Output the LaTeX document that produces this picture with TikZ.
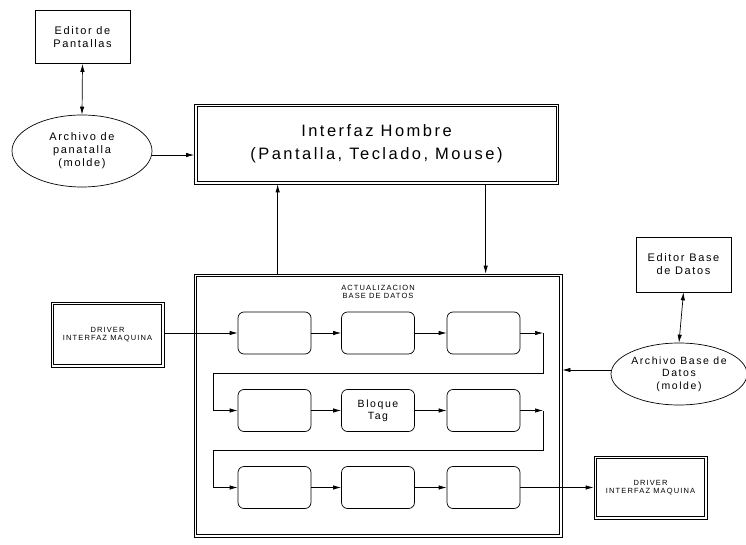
\documentclass[tikz,border=0pt]{standalone}
\usepackage{fontspec}
\setmainfont{Liberation Sans}[LetterSpace=15]
\usetikzlibrary{shapes.geometric,arrows.meta,calc}
\tikzset{
  box/.style={draw, line width=0.7pt, inner sep=0pt, align=center},
  dbox/.style={draw, line width=0.7pt, inner sep=0pt, align=center},
  inner/.style={draw, line width=0.7pt},
  rbox/.style={draw, line width=0.7pt, rounded corners=6pt, minimum width=73pt, minimum height=42pt, inner sep=0pt, align=center, font=\fontsize{10.5}{12}\selectfont},
  ell/.style={draw, ellipse, line width=0.7pt, inner sep=0pt, align=center},
  arr/.style={line width=0.7pt, -{Latex[length=8pt,width=4.4pt]}},
  darr/.style={line width=0.7pt, {Latex[length=8pt,width=4.4pt]}-{Latex[length=8pt,width=4.4pt]}},
  smallcaps/.style={font=\fontsize{7.5}{8.5}\selectfont},
}
\newcommand{\innerbox}[1]{\draw[inner] ($(#1.north west)+(3,3)$) rectangle ($(#1.south east)+(-3,-3)$);}
\begin{document}
\begin{tikzpicture}[x=1pt,y=-1pt]
\useasboundingbox (0,0) rectangle (746,545);
\begin{scope}
\clip (0,0) rectangle (746,545);
% left top
\node[box, minimum width=95pt, minimum height=53pt, font=\fontsize{11}{13}\selectfont] (ep) at (82.5,37) {Editor de\\Pantallas};
\node[ell, minimum width=140pt, minimum height=72pt, font=\fontsize{11}{13}\selectfont] (ap) at (82,151) {Archivo de\\panatalla\\(molde)};
% interfaz
\node[dbox, minimum width=364pt, minimum height=80pt, font=\fontsize{16.5}{23}\selectfont] (ih) at (376.5,144) {Interfaz Hombre\\(Pantalla, Teclado, Mouse)};
\innerbox{ih}
% big box
\node[dbox, minimum width=368pt, minimum height=263pt] (bd) at (378,405.5) {};
\innerbox{bd}
\node[smallcaps, align=center] (tt) at (378,292) {ACTUALIZACION\\BASE DE DATOS};
% rounded boxes
\node[rbox] (b11) at (274.5,333) {};
\node[rbox] (b12) at (378,333) {};
\node[rbox] (b13) at (483.5,333) {};
\node[rbox] (b21) at (274.5,410.5) {};
\node[rbox] (b22) at (378,410.5) {Bloque\\Tag};
\node[rbox] (b23) at (483.5,410.5) {};
\node[rbox] (b31) at (274.5,487.5) {};
\node[rbox] (b32) at (378,487.5) {};
\node[rbox] (b33) at (483.5,487.5) {};
% drivers
\node[dbox, minimum width=113pt, minimum height=65pt, smallcaps] (dl) at (107.5,334.5) {DRIVER\\INTERFAZ MAQUINA};
\innerbox{dl}
\node[dbox, minimum width=113pt, minimum height=63pt, smallcaps] (dr) at (650.5,487.5) {DRIVER\\INTERFAZ MAQUINA};
\innerbox{dr}
% right
\node[box, minimum width=95pt, minimum height=55pt, font=\fontsize{11}{13}\selectfont] (eb) at (683.5,264.5) {Editor Base\\de Datos};
\node[ell, minimum width=136pt, minimum height=62pt, font=\fontsize{10.5}{12.5}\selectfont] (ab) at (679,374) {Archivo Base de\\Datos\\(molde)};
% coordinates
\coordinate (a1) at ($(ap.east)+(0,4)$);
\coordinate (a2) at ($(ab.west)+(0,-4)$);
\coordinate (u1) at ($(bd.north west)+(84,0)$);
\coordinate (d1) at ($(ih.south west)+(291.5,0)$);
\coordinate (t1) at (543,333);
\coordinate (t1b) at (543,373);
\coordinate (t1c) at (213,373);
\coordinate (t2) at (543,410.5);
\coordinate (t2b) at (543,450);
\coordinate (t2c) at (213,450);
% connectors
\draw[darr] (ep.south) -- (ap.north);
\draw[arr] (a1) -- (a1 -| ih.west);
\draw[arr] (u1) -- (u1 |- ih.south);
\draw[arr] (d1) -- (d1 |- bd.north);
\draw[arr] (dl.east |- b11.west) -- (b11.west);
\draw[arr] (b11) -- (b12);
\draw[arr] (b12) -- (b13);
\draw[arr] (b13.east) -- (t1);
\draw[arr] (t1) -- (t1b) -- (t1c) |- (b21.west);
\draw[arr] (b21) -- (b22);
\draw[arr] (b22) -- (b23);
\draw[arr] (b23.east) -- (t2);
\draw[arr] (t2) -- (t2b) -- (t2c) |- (b31.west);
\draw[arr] (b31) -- (b32);
\draw[arr] (b32) -- (b33);
\draw[arr] (b33.east) -- (dr.west |- b33.east);
\draw[darr] (eb.south) -- (ab.north);
\draw[arr] (a2) -- (a2 -| bd.east);
\end{scope}
\end{tikzpicture}
\end{document}
